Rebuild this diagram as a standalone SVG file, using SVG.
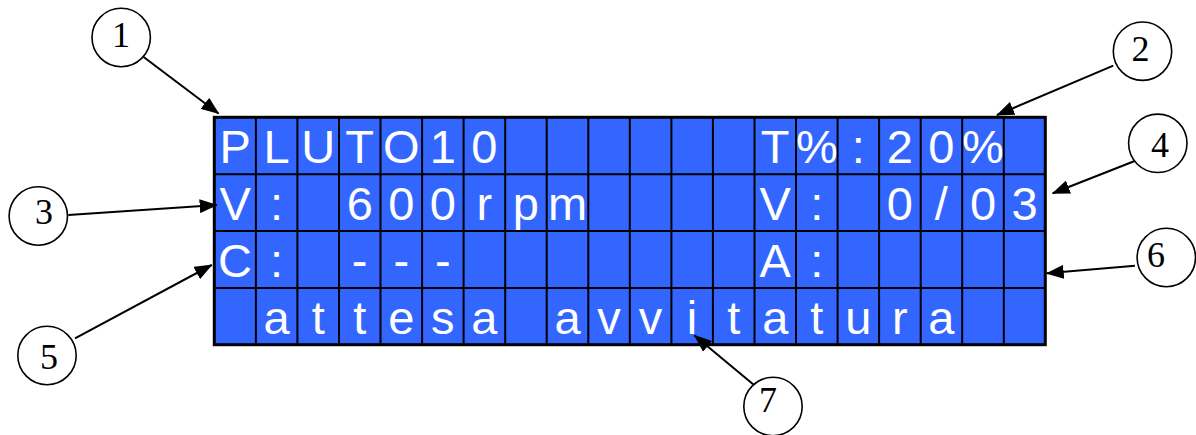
<svg xmlns="http://www.w3.org/2000/svg" width="1196" height="435" viewBox="0 0 1196 435">
<style>
.lcd{font-family:"Liberation Sans",Arial,sans-serif;font-size:47px;fill:#ffffff;text-anchor:middle}
.num{font-family:"Liberation Serif","Times New Roman",serif;font-size:36px;fill:#000;text-anchor:middle}
.callout{fill:#fff;stroke:#000;stroke-width:1.6}
.conn{stroke:#000;stroke-width:2;fill:none;marker-end:url(#ah)}
.grid{stroke:#000;stroke-width:2;fill:none}
</style>
<defs>
<marker id="ah" markerUnits="userSpaceOnUse" markerWidth="18" markerHeight="14" viewBox="0 0 18 14" refX="17" refY="7" orient="auto">
<path d="M0,0 L18,7 L0,14 Z" fill="#000"/>
</marker>
</defs>
<rect width="1196" height="435" fill="#fff"/>
<g id="lcd">
<rect x="214.3" y="117.3" width="831" height="227.4" fill="#3366ff"/>
<path class="grid" d="M255.9,117.3V344.7M297.4,117.3V344.7M339,117.3V344.7M380.5,117.3V344.7M422.1,117.3V344.7M463.6,117.3V344.7M505.2,117.3V344.7M546.7,117.3V344.7M588.3,117.3V344.7M629.8,117.3V344.7M671.4,117.3V344.7M712.9,117.3V344.7M754.5,117.3V344.7M796,117.3V344.7M837.6,117.3V344.7M879.1,117.3V344.7M920.7,117.3V344.7M962.2,117.3V344.7M1003.8,117.3V344.7M214.3,174.2H1045.3M214.3,231H1045.3M214.3,287.9H1045.3"/>
<rect x="214.3" y="117.3" width="831" height="227.4" fill="none" stroke="#000" stroke-width="3"/>
<g class="lcd">
<text x="235.1" y="163.1">P</text><text x="276.6" y="163.1">L</text><text x="318.2" y="163.1">U</text><text x="359.7" y="163.1">T</text><text x="401.3" y="163.1">O</text><text x="442.8" y="163.1">1</text><text x="484.4" y="163.1">0</text>
<text x="775.2" y="163.1">T</text><text x="816.8" y="163.1">%</text><text x="858.3" y="163.1">:</text><text x="899.9" y="163.1">2</text><text x="941.4" y="163.1">0</text><text x="983" y="163.1">%</text>
<text x="235.1" y="220">V</text><text x="276.6" y="220">:</text><text x="359.7" y="220">6</text><text x="401.3" y="220">0</text><text x="442.8" y="220">0</text><text x="484.4" y="220">r</text><text x="525.9" y="220">p</text><text x="567.5" y="220">m</text>
<text x="775.2" y="220">V</text><text x="816.8" y="220">:</text><text x="899.9" y="220">0</text><text x="941.4" y="220">/</text><text x="983" y="220">0</text><text x="1024.5" y="220">3</text>
<text x="235.1" y="276.8">C</text><text x="276.6" y="276.8">:</text><text x="359.7" y="276.8">-</text><text x="401.3" y="276.8">-</text><text x="442.8" y="276.8">-</text>
<text x="775.2" y="276.8">A</text><text x="816.8" y="276.8">:</text>
<text x="276.6" y="333.6">a</text><text x="318.2" y="333.6">t</text><text x="359.7" y="333.6">t</text><text x="401.3" y="333.6">e</text><text x="442.8" y="333.6">s</text><text x="484.4" y="333.6">a</text>
<text x="567.5" y="333.6">a</text><text x="609" y="333.6">v</text><text x="650.6" y="333.6">v</text><text x="692.1" y="333.6">i</text><text x="733.7" y="333.6">t</text><text x="775.2" y="333.6">a</text><text x="816.8" y="333.6">t</text><text x="858.3" y="333.6">u</text><text x="899.9" y="333.6">r</text><text x="941.4" y="333.6">a</text>
</g>
</g>
<g id="connectors">
<line class="conn" x1="143.3" y1="56.7" x2="218.5" y2="113.5"/>
<line class="conn" x1="1113.3" y1="65.7" x2="997" y2="115"/>
<line class="conn" x1="68.3" y1="215" x2="216.7" y2="205"/>
<line class="conn" x1="1141.7" y1="158.3" x2="1052.7" y2="193.3"/>
<line class="conn" x1="75" y1="338.3" x2="211.7" y2="265"/>
<line class="conn" x1="1135" y1="265.7" x2="1046.7" y2="273.3"/>
<line class="conn" x1="754" y1="385" x2="694.5" y2="335.5"/>
</g>
<g id="callout1"><circle class="callout" cx="121.2" cy="37.5" r="29.2"/><text class="num" x="121" y="46.5">1</text></g>
<g id="callout2"><circle class="callout" cx="1142.5" cy="51.2" r="29.2"/><text class="num" x="1140.5" y="60.5">2</text></g>
<g id="callout3"><circle class="callout" cx="38.3" cy="216" r="29.2"/><text class="num" x="44" y="223.5">3</text></g>
<g id="callout4"><circle class="callout" cx="1157.8" cy="143.3" r="29.2"/><text class="num" x="1160" y="157">4</text></g>
<g id="callout5"><circle class="callout" cx="47" cy="355.5" r="29.2"/><text class="num" x="49" y="369">5</text></g>
<g id="callout6"><circle class="callout" cx="1166.3" cy="257.5" r="29.2"/><text class="num" x="1156" y="266.5">6</text></g>
<g id="callout7"><circle class="callout" cx="773" cy="406.5" r="29.2"/><text class="num" x="768" y="411.5">7</text></g>
</svg>
